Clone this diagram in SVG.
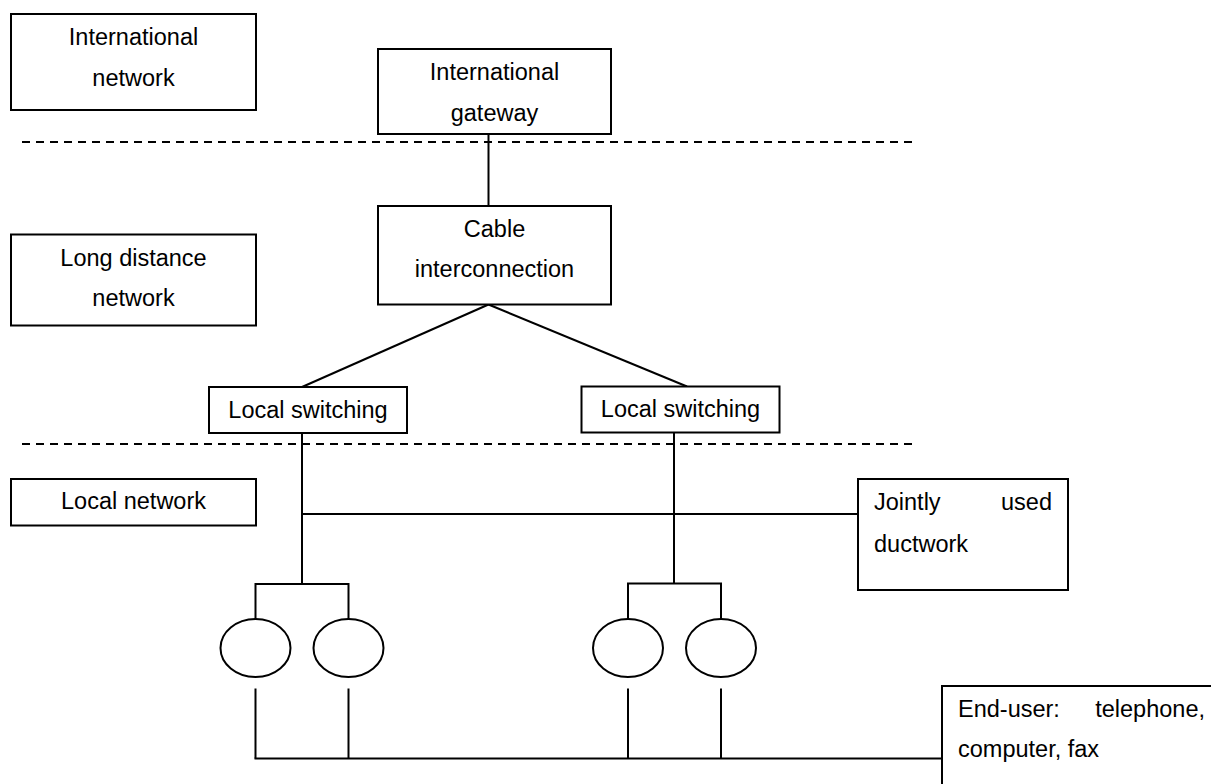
<svg xmlns="http://www.w3.org/2000/svg" width="1211" height="784" viewBox="0 0 1211 784">
<style>
.box{fill:#fff;stroke:#000;stroke-width:2}
.ell{fill:#fff;stroke:#000;stroke-width:2}
.ln{fill:none;stroke:#000;stroke-width:2}
.dash{fill:none;stroke:#000;stroke-width:2;stroke-dasharray:8 6}
text{font-family:"Liberation Sans",Arial,sans-serif;font-size:23.5px;fill:#000}
.c{text-anchor:middle}
</style>
<rect width="1211" height="784" fill="#fff"/>
<g id="dividers">
<line class="dash" x1="22" y1="142" x2="913" y2="142"/>
<line class="dash" x1="22" y1="444" x2="913" y2="444"/>
</g>
<g id="connectors">
<line class="ln" x1="488.5" y1="134" x2="488.5" y2="206"/>
<line class="ln" x1="488.5" y1="304.5" x2="302" y2="387"/>
<line class="ln" x1="488.5" y1="304.5" x2="687" y2="386.5"/>
<line class="ln" x1="302" y1="433" x2="302" y2="584"/>
<line class="ln" x1="674" y1="432.5" x2="674" y2="583.5"/>
<line class="ln" x1="302" y1="514" x2="858" y2="514"/>
<polyline class="ln" points="255.5,619 255.5,584 348.5,584 348.5,619"/>
<polyline class="ln" points="628,619 628,583.5 721,583.5 721,619"/>
<line class="ln" x1="255.5" y1="688.5" x2="255.5" y2="758.5"/>
<line class="ln" x1="348.5" y1="688.5" x2="348.5" y2="758.5"/>
<line class="ln" x1="628" y1="688.5" x2="628" y2="758.5"/>
<line class="ln" x1="721" y1="688.5" x2="721" y2="758.5"/>
<line class="ln" x1="254.5" y1="758.5" x2="942" y2="758.5"/>
</g>
<g id="international-network">
<rect class="box" x="11" y="14" width="245" height="96"/>
<text class="c" x="133.5" y="45">International<tspan x="133.5" y="86">network</tspan></text>
</g>
<g id="long-distance-network">
<rect class="box" x="11" y="234.5" width="245" height="91"/>
<text class="c" x="133.5" y="266">Long distance<tspan x="133.5" y="306">network</tspan></text>
</g>
<g id="local-network">
<rect class="box" x="11" y="479" width="245" height="46.5"/>
<text class="c" x="133.5" y="509">Local network</text>
</g>
<g id="international-gateway">
<rect class="box" x="378" y="49" width="233" height="85"/>
<text class="c" x="494.5" y="80">International<tspan x="494.5" y="120.5">gateway</tspan></text>
</g>
<g id="cable-interconnection">
<rect class="box" x="378" y="206" width="233" height="98.5"/>
<text class="c" x="494.5" y="236.5">Cable<tspan x="494.5" y="277">interconnection</tspan></text>
</g>
<g id="local-switching-left">
<rect class="box" x="209" y="387" width="198" height="46"/>
<text class="c" x="308" y="418">Local switching</text>
</g>
<g id="local-switching-right">
<rect class="box" x="581.5" y="386.5" width="198" height="46"/>
<text class="c" x="680.5" y="417">Local switching</text>
</g>
<g id="jointly-used-ductwork">
<rect class="box" x="858" y="479" width="210" height="111"/>
<text x="874" y="510">Jointly<tspan x="1052" text-anchor="end">used</tspan><tspan x="874" y="551.5">ductwork</tspan></text>
</g>
<g id="end-users">
<ellipse class="ell" cx="255.5" cy="648" rx="35" ry="29"/>
<ellipse class="ell" cx="348.5" cy="648" rx="35" ry="29"/>
<ellipse class="ell" cx="628" cy="648" rx="35" ry="29"/>
<ellipse class="ell" cx="721" cy="648" rx="35" ry="29"/>
</g>
<g id="end-user-label">
<rect class="box" x="942" y="686" width="300" height="120"/>
<text x="958" y="716.5">End-user:<tspan x="1205" text-anchor="end">telephone,</tspan><tspan x="958" y="756.5">computer, fax</tspan></text>
</g>
</svg>
